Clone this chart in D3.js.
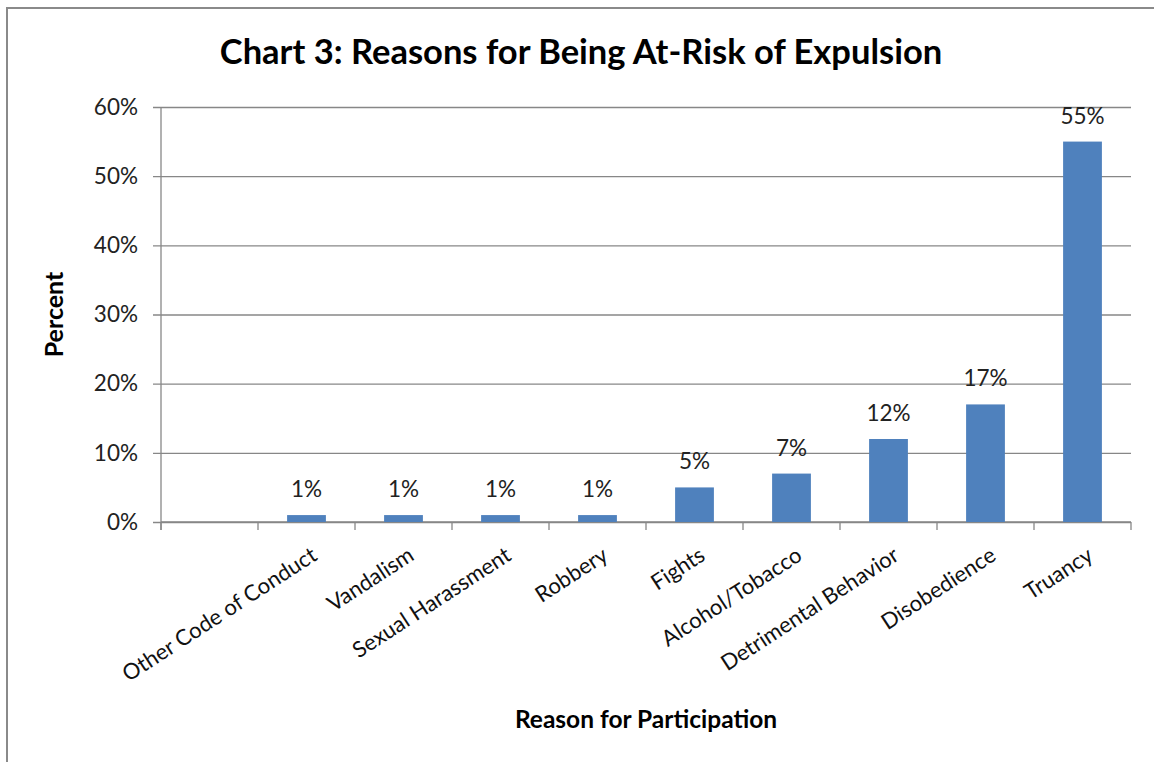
<!DOCTYPE html>
<html>
<head>
<meta charset="utf-8">
<script src="https://cdn.jsdelivr.net/npm/d3@7"></script>
<style>
  html, body { margin: 0; padding: 0; background: #fff; }
  svg { display: block; }
  text { font-family: Lato, "Liberation Sans", sans-serif; }
</style>
</head>
<body>
<svg id="chart" width="1154" height="762"></svg>
<script>
// Reasons for being at-risk of expulsion (percent of participants)
const categories = ["", "Other Code of Conduct", "Vandalism", "Sexual Harassment", "Robbery",
  "Fights", "Alcohol/Tobacco", "Detrimental Behavior", "Disobedience", "Truancy"];
const percents = [null, 1, 1, 1, 1, 5, 7, 12, 17, 55];
const yTicks = [0, 10, 20, 30, 40, 50, 60];

const chartTitle = "Chart 3: Reasons for Being At-Risk of Expulsion";
const xTitle = "Reason for Participation";
const yTitle = "Percent";

const svg = d3.select("#chart");
const plot = { left: 161, right: 1131, top: 107, bottom: 522 };
const gridColor = "#878787";
const barColor = "#4f81bd";

// chart frame
svg.append("rect")
  .attr("x", 7).attr("y", 8).attr("width", 1160).attr("height", 770)
  .attr("fill", "#fff").attr("stroke", "#8a8a8a").attr("stroke-width", 2);

const x = d3.scaleBand()
  .domain(d3.range(categories.length))
  .range([plot.left, plot.right])
  .paddingInner(0.6)
  .paddingOuter(0.3);

const y = d3.scaleLinear().domain([0, 60]).range([plot.bottom, plot.top]);

// horizontal gridlines with y-axis ticks and labels
const yAxis = d3.axisLeft(y)
  .tickValues(yTicks)
  .tickSize(-(plot.right - plot.left))
  .tickPadding(23)
  .tickFormat(d => d + "%");

const gy = svg.append("g")
  .attr("transform", `translate(${plot.left},0)`)
  .call(yAxis);
gy.select(".domain").remove();
gy.selectAll(".tick line")
  .attr("x1", -8)
  .attr("stroke", gridColor).attr("stroke-width", 1.3);
gy.selectAll(".tick text")
  .attr("font-size", 22.5).attr("fill", "#222");

// vertical axis line
svg.append("line")
  .attr("x1", plot.left).attr("x2", plot.left)
  .attr("y1", plot.top).attr("y2", plot.bottom + 8)
  .attr("stroke", gridColor).attr("stroke-width", 1.3);

// category boundary ticks on the x axis
const step = x.step();
const boundaries = d3.range(categories.length + 1).map(i => plot.left + i * step);
svg.append("g").selectAll("line")
  .data(boundaries)
  .join("line")
  .attr("x1", d => d).attr("x2", d => d)
  .attr("y1", plot.bottom).attr("y2", plot.bottom + 8)
  .attr("stroke", gridColor).attr("stroke-width", 1.3);

svg.append("line")
  .attr("x1", plot.left).attr("x2", plot.right)
  .attr("y1", plot.bottom).attr("y2", plot.bottom)
  .attr("stroke", gridColor).attr("stroke-width", 1.3);

const rows = categories.map((c, i) => ({ i, c, v: percents[i] })).filter(d => d.v != null);

// bars
svg.append("g").selectAll("rect")
  .data(rows)
  .join("rect")
  .attr("x", d => x(d.i))
  .attr("width", x.bandwidth())
  .attr("y", d => y(d.v))
  .attr("height", d => y(0) - y(d.v))
  .attr("fill", barColor);

// value labels
svg.append("g").selectAll("text")
  .data(rows)
  .join("text")
  .attr("x", d => x(d.i) + x.bandwidth() / 2)
  .attr("y", d => y(d.v) - 18)
  .attr("text-anchor", "middle")
  .attr("font-size", 22.5)
  .attr("fill", "#222")
  .text(d => d.v + "%");

// rotated category labels
svg.append("g").selectAll("text")
  .data(categories.map((c, i) => ({ c, i })).filter(d => d.c))
  .join("text")
  .attr("transform", d => `translate(${x(d.i) + x.bandwidth() / 2 + 12},${plot.bottom + 37}) rotate(-33)`)
  .attr("text-anchor", "end")
  .attr("font-size", 22)
  .attr("fill", "#111")
  .text(d => d.c);

// titles
svg.append("text")
  .attr("x", 581).attr("y", 64)
  .attr("text-anchor", "middle")
  .attr("font-size", 34.5).attr("font-weight", "bold")
  .attr("fill", "#000")
  .text(chartTitle);

svg.append("text")
  .attr("x", (plot.left + plot.right) / 2).attr("y", 728)
  .attr("text-anchor", "middle")
  .attr("font-size", 24.5).attr("font-weight", "bold")
  .attr("fill", "#000")
  .text(xTitle);

svg.append("text")
  .attr("transform", `translate(63,${(plot.top + plot.bottom) / 2}) rotate(-90)`)
  .attr("text-anchor", "middle")
  .attr("font-size", 25).attr("font-weight", "bold")
  .attr("fill", "#000")
  .text(yTitle);
</script>
</body>
</html>
